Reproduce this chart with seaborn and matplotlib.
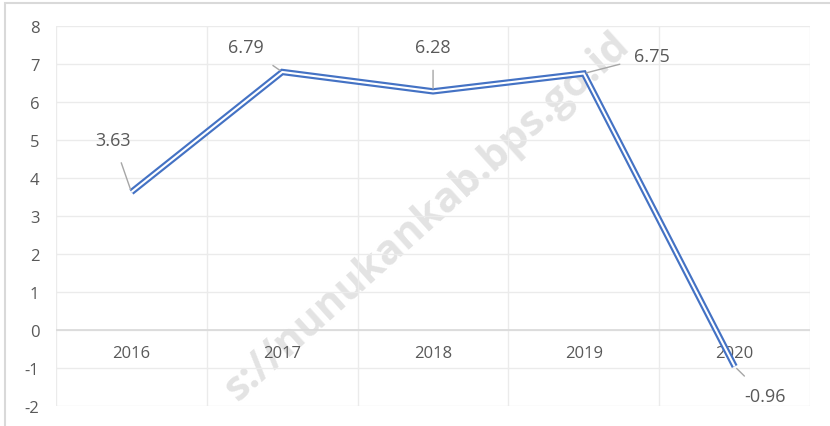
import matplotlib
matplotlib.use("Agg")
import matplotlib.pyplot as plt
import seaborn as sns
import pandas as pd
from matplotlib.patches import Rectangle

# Data
years = ["2016", "2017", "2018", "2019", "2020"]
growth = [3.63, 6.79, 6.28, 6.75, -0.96]

# label positions (data coords) for the value callouts
label_x = [-0.12, 0.76, 2.0, 3.45, 4.2]
label_y = [5.0, 7.45, 7.45, 7.21, -1.74]

df = pd.DataFrame({"pos": range(len(years)), "year": years, "growth": growth})

sns.set_style("white")
plt.rcParams["font.family"] = ["Open Sans", "DejaVu Sans"]
plt.rcParams["axes.unicode_minus"] = False

fig = plt.figure(figsize=(8.3, 4.27), dpi=100)
ax = fig.add_axes([0.0675, 0.0468, 0.9085, 0.89])

# watermark (only the visible part of the url), behind everything
ax.text(0.515, 0.49, "s://nunukankab.bps.go.id", rotation=42, fontsize=30,
        fontweight="bold", color="#e3e3e3", ha="center", va="center",
        transform=fig.transFigure, zorder=0, clip_on=False)

# double line: blue outer, white inner
sns.lineplot(data=df, x="pos", y="growth", ax=ax, color="#4472C4",
             linewidth=4.6, solid_joinstyle="miter", solid_capstyle="butt", zorder=3)
sns.lineplot(data=df, x="pos", y="growth", ax=ax, color="white",
             linewidth=1.5, solid_joinstyle="miter", solid_capstyle="butt", zorder=4)

ax.set_xlim(-0.5, len(years) - 0.5)
ax.set_ylim(-2, 8)
ax.set_yticks(range(-2, 9))
ax.set_xticks([i + 0.5 for i in range(-1, len(years))])
ax.set_xticklabels([])
ax.tick_params(axis="both", length=0, labelsize=12, labelcolor="#595959")
ax.tick_params(axis="y", pad=12)
ax.set_xlabel("")
ax.set_ylabel("")
ax.set_axisbelow(True)
ax.grid(True, color="#ebebeb", linewidth=1, zorder=1)
ax.axhline(0, color="#d9d9d9", linewidth=1.2, zorder=1)
for s in ax.spines.values():
    s.set_visible(False)
ax.patch.set_alpha(0)

for i, y in enumerate(years):
    ax.text(i, -0.6, y, ha="center", va="center", fontsize=12, color="#595959", zorder=2)

for i, v in enumerate(growth):
    ax.annotate(f"{v:.2f}", xy=(i, v), xytext=(label_x[i], label_y[i]),
                ha="center", va="center", fontsize=13, color="#595959",
                arrowprops=dict(arrowstyle="-", color="#a6a6a6", lw=1,
                                shrinkA=8, shrinkB=2), zorder=5)

# outer border of chart area
fig.patches.append(Rectangle((5 / 830, -0.1), 1.2, 1 - 4 / 427 + 0.1,
                             transform=fig.transFigure, fill=False,
                             edgecolor="#d9d9d9", linewidth=1.5))

fig.savefig("out.png", dpi=100)
